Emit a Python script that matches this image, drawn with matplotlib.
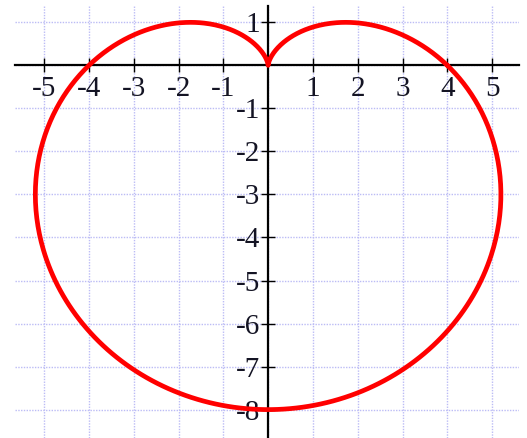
import numpy as np
import matplotlib
matplotlib.use('Agg')
import matplotlib.pyplot as plt

# Curve: cardioid r = a * (1 - sin(theta))
a = 4.0
n_pts = 721

# Axes
x_range = [-5.65, 5.6]
y_range = [-8.66, 1.38]
x_ticks = [-5, -4, -3, -2, -1, 1, 2, 3, 4, 5]
y_ticks = [1, -1, -2, -3, -4, -5, -6, -7, -8]

theta = np.linspace(0, 2 * np.pi, n_pts)
r = a * (1 - np.sin(theta))
x = r * np.cos(theta)
y = r * np.sin(theta)

fig = plt.figure(figsize=(5.27, 4.38), dpi=100)
ax = fig.add_axes([15 / 527, 0.0, (519 - 15) / 527, (438 - 6) / 438])

ax.set_xlim(x_range)
ax.set_ylim(y_range)

# grid at every unit
for gx in range(-5, 6):
    ax.axvline(gx, color='#bcbcf5', lw=1.0, ls=(0, (1, 1)), zorder=0)
for gy in range(-8, 2):
    ax.axhline(gy, color='#bcbcf5', lw=1.0, ls=(0, (1, 1)), zorder=0)

ax.plot(x, y, color='#ff0000', lw=3.4, zorder=3, solid_capstyle='round')

for s in ['top', 'right']:
    ax.spines[s].set_visible(False)
for s in ['left', 'bottom']:
    ax.spines[s].set_position('zero')
    ax.spines[s].set_linewidth(1.6)
    ax.spines[s].set_color('black')
    ax.spines[s].set_zorder(2)

ax.set_xticks(x_ticks)
ax.set_xticklabels([str(t) for t in x_ticks])
ax.set_yticks(y_ticks)
ax.set_yticklabels([str(t) for t in y_ticks])

ax.tick_params(direction='inout', length=10, width=1.0, color='black')
ax.tick_params(axis='x', pad=3)
ax.tick_params(axis='y', pad=1)
for lab in ax.get_xticklabels() + ax.get_yticklabels():
    lab.set_fontfamily('Liberation Serif')
    lab.set_fontsize(21)
    lab.set_color('#141424')

fig.savefig('out.png', dpi=100)
